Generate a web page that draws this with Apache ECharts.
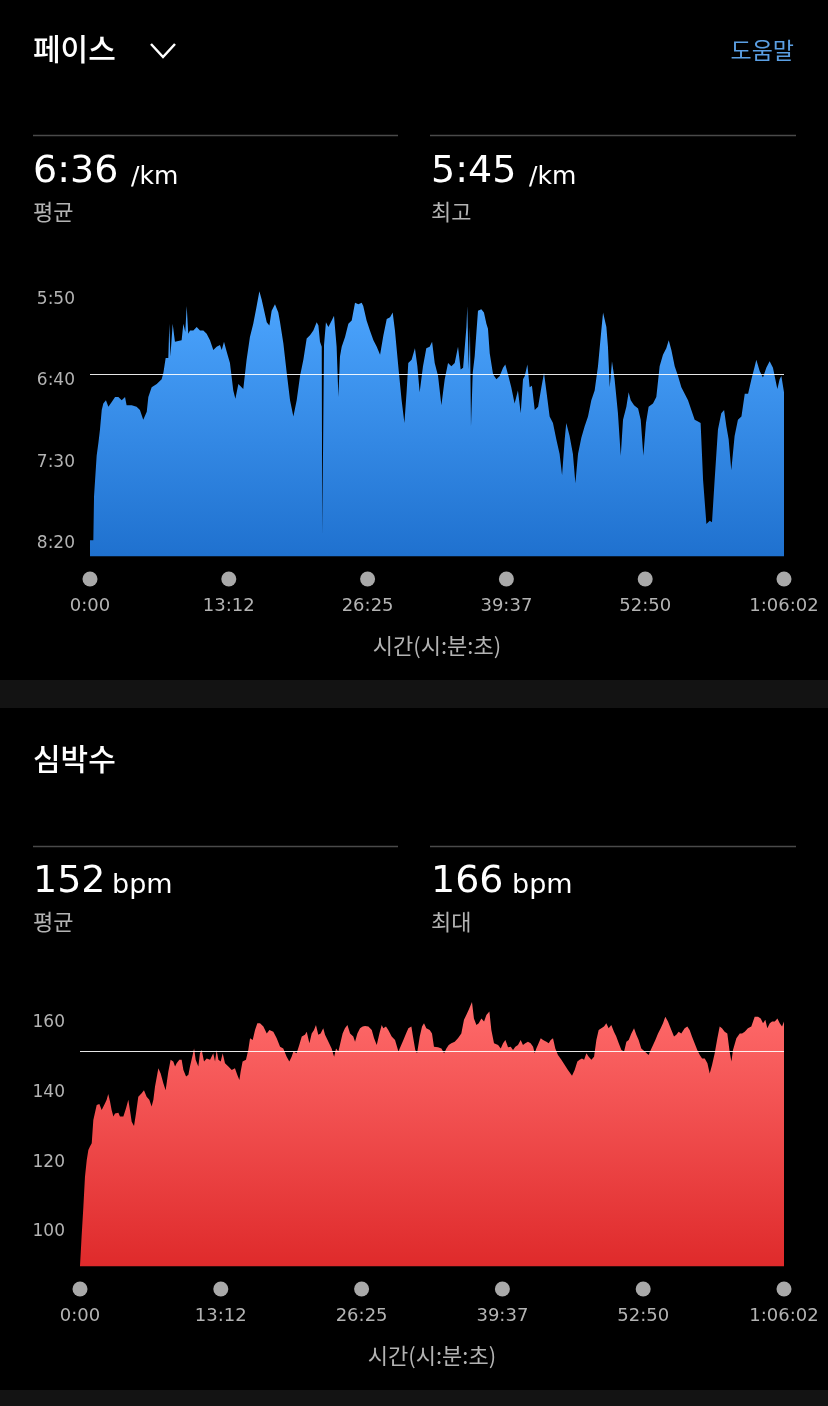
<!DOCTYPE html>
<html><head><meta charset="utf-8">
<script src="https://cdn.jsdelivr.net/npm/echarts@6/dist/echarts.min.js"></script>
<style>html,body{margin:0;padding:0;background:#000;}#c{width:828px;height:1406px;}</style>
</head><body><div id="c"></div>
<script>
// ---- data ----
const paceTitle = '페이스';
const hrTitle = '심박수';
const paceAvg = 396;   // 6:36 /km (seconds)
const paceBest = 345;  // 5:45 /km
const hrAvg = 152;
const hrMax = 166;
const xTickValues = [0, 792.4, 1584.8, 2377.2, 3169.6, 3962];
const paceTickValues = [350, 400, 450, 500];
const hrTickValues = [100, 120, 140, 160];
// [elapsed seconds, pace seconds per km]
const pacePoints = [
[0,498],[19,498],[23,471],[38,446],[48,438],[57,430],[67,418],[76,414],[91,412],[105,416],[124,413],[143,410],[162,410],[181,412],[200,410],[209,415],[238,415],[266,416],[285,418],[304,424],[314,425],[324,419],[333,410],[352,404],[381,402],[409,399],[419,395],[432,386],[447,386],[453,365],[459,385],[472,365],[480,364],[485,376],[495,375],[523,375],[533,365],[544,370],[552,354],[561,371],[571,369],[590,369],[609,367],[628,369],[647,369],[666,371],[685,375],[704,381],[723,379],[742,378],[752,381],[765,376],[780,382],[799,389],[818,406],[830,411],[847,402],[875,405],[894,387],[913,373],[932,365],[948,356],[967,345],[980,350],[1009,364],[1024,366],[1037,357],[1056,353],[1075,358],[1085,364],[1104,377],[1123,395],[1142,412],[1161,422],[1180,412],[1199,397],[1218,387],[1237,374],[1256,372],[1275,369],[1294,364],[1304,366],[1313,376],[1323,379],[1326,494],[1330,494],[1336,378],[1347,364],[1361,367],[1380,363],[1393,360],[1408,379],[1418,410],[1427,385],[1437,379],[1456,373],[1475,365],[1494,363],[1513,352],[1532,353],[1551,352],[1560,354],[1579,363],[1598,369],[1618,375],[1637,379],[1656,384],[1675,372],[1694,362],[1713,361],[1728,358],[1741,369],[1760,391],[1779,412],[1795,426],[1808,406],[1817,389],[1836,387],[1855,380],
[1869,391],[1882,407],[1901,391],[1920,380],[1939,379],[1953,376],[1968,389],[1987,397],[2006,415],[2025,399],[2044,389],[2063,391],[2082,389],[2101,379],[2116,393],[2130,392],[2149,367],[2154,354],[2162,393],[2169,367],[2175,428],[2179,428],[2185,395],[2196,385],[2215,357],[2234,356],[2249,358],[2263,365],[2272,368],[2282,383],[2301,396],[2320,399],[2339,397],[2358,392],[2371,390],[2386,396],[2405,404],[2424,414],[2443,406],[2459,420],[2472,399],[2482,397],[2497,390],[2510,404],[2523,403],[2539,418],[2558,416],[2577,404],[2592,395],[2605,406],[2624,422],[2643,426],[2662,436],[2681,445],[2695,458],[2710,436],[2719,426],[2738,434],[2757,445],[2771,463],[2786,445],[2805,435],[2824,428],[2843,422],[2862,412],[2881,406],[2900,391],[2919,369],[2929,358],[2948,367],[2957,379],[2967,404],[2980,388],[2995,399],[3014,420],[3030,446],[3043,424],[3062,416],[3075,407],[3087,412],[3106,415],[3129,417],[3144,424],[3159,446],[3174,426],[3189,416],[3214,414],[3233,410],[3252,391],[3271,384],[3290,380],[3304,375],[3319,381],[3338,391],[3357,397],[3376,404],[3395,408],[3414,412],[3433,418],[3452,424],[3471,425],[3486,426],[3500,461],[3519,488],[3538,486],[3551,487],[3566,461],[3585,430],[3604,420],[3620,418],[3633,428],[3646,436],[3661,455],[3680,434],[3699,424],[3719,422],[3738,408],[3757,408],[3776,399],[3795,391],[3804,387],[3823,394],[3842,398],[3861,392],[3880,388],[3899,392],[3909,393],[3924,405],[3937,399],[3947,397],[3962,407]
];
// [elapsed seconds, bpm]
const hrPoints = [
[0,90.2],[4,93.8],[9,98.6],[19,107.2],[28,115.8],[38,120.6],[47,123.5],[56,124.5],[66,125.4],[75,132.1],[84,132.6],[94,136.4],[109,136.7],[122,135.0],[131,134.5],[141,136.9],[150,137.9],[159,139.6],[169,137.4],[178,135.0],[188,133.1],[197,134.0],[206,133.6],[216,134.2],[225,133.1],[234,133.6],[244,133.1],[259,135.5],[272,137.9],[281,135.0],[291,131.6],[304,130.4],[315,134.0],[328,138.8],[347,139.8],[360,140.7],[375,138.8],[390,137.9],[403,136.0],[413,137.9],[422,141.7],[441,147.0],[454,145.5],[469,142.7],[482,140.7],[497,146.0],[510,149.4],[525,148.9],[535,147.5],[544,148.4],[559,149.4],[572,149.4],[582,146.5],[597,144.6],[610,145.1],[619,147.5],[634,150.8],[642,152.7],[651,149.4],[666,147.5],[675,151.3],[685,152.2],[698,148.9],[713,149.8],[732,149.4],[750,151.3],[760,148.9],[769,152.2],[779,149.4],[792,148.9],[803,151.3],[816,148.4],[835,147.5],[854,146.5],[872,147.0],[885,145.1],[897,143.6],[904,146.0],[915,148.9],[934,149.4],[947,152.2],[957,155.6],[972,155.1],[985,158.0],[998,159.9],[1013,159.9],[1032,159.0],[1051,157.0],[1066,158.0],[1088,157.5],[1107,155.6],[1126,153.2],[1144,152.7],[1163,150.3],[1178,148.9],[1191,150.3],[1201,151.8],[1219,151.3],[1234,153.7],[1248,156.1],[1266,156.6],[1276,157.5],[1291,154.2],[1304,157.0],[1317,158.0],[1328,159.4],[1341,156.6],[1354,157.0],[1369,158.5],[1379,156.6],[1398,154.6],[1416,152.7],[1430,150.3],[1441,152.7],[1454,151.8],[1463,151.3],[1478,157.0],[1491,158.5],[1505,159.4],[1520,157.0],[1538,156.1],[1548,154.6],[1561,157.0],[1576,158.5],[1591,159.0],[1604,159.1],[1623,159.0],[1642,158.0],[1655,155.6],[1670,153.7],[1685,157.0],[1698,159.4],[1707,158.5],[1722,159.0],[1735,158.0],[1754,156.1],[1773,155.1],[1792,151.8],[1801,152.2],[1820,155.1],[1835,157.0],[1848,158.5],
[1855,158.5],[1865,159.0],[1874,156.1],[1887,152.2],[1897,151.3],[1912,156.1],[1925,159.0],[1936,159.9],[1949,158.5],[1968,158.0],[1981,157.0],[1992,153.2],[2015,153.0],[2034,152.7],[2049,151.3],[2062,152.7],[2075,153.7],[2090,154.2],[2109,154.6],[2127,155.6],[2146,157.0],[2161,160.9],[2174,162.3],[2187,163.7],[2206,166.0],[2217,161.3],[2231,159.4],[2244,159.9],[2259,161.3],[2274,160.4],[2287,162.3],[2304,163.3],[2315,158.0],[2330,154.2],[2353,153.7],[2368,152.7],[2381,154.2],[2394,155.1],[2409,153.0],[2424,153.2],[2437,152.2],[2450,153.2],[2465,153.7],[2480,155.1],[2493,153.7],[2506,154.2],[2521,154.6],[2536,154.2],[2550,153.2],[2559,151.3],[2568,152.7],[2581,154.2],[2593,155.6],[2606,155.1],[2625,154.6],[2638,154.2],[2649,155.1],[2662,155.6],[2675,152.7],[2690,150.8],[2709,149.4],[2728,147.9],[2746,146.5],[2769,144.8],[2784,146.5],[2799,148.9],[2812,149.4],[2825,149.8],[2837,149.4],[2850,151.3],[2863,150.3],[2878,149.4],[2893,150.3],[2906,155.1],[2919,158.0],[2934,158.5],[2949,159.0],[2962,159.9],[2975,158.5],[2990,159.4],[3005,157.5],[3018,156.1],[3032,154.2],[3047,152.2],[3062,151.8],[3075,154.6],[3088,155.1],[3103,157.0],[3118,158.5],[3131,156.6],[3144,155.1],[3159,152.7],[3178,151.8],[3200,150.8],[3212,152.2],[3225,153.7],[3238,155.1],[3253,157.0],[3268,158.5],[3281,159.9],[3294,161.8],[3309,160.4],[3328,158.0],[3343,156.1],[3356,156.6],[3369,157.5],[3384,157.0],[3403,158.5],[3418,159.0],[3431,158.0],[3444,156.1],[3459,154.2],[3474,152.2],[3488,150.8],[3501,149.8],[3516,149.8],[3531,148.4],[3544,145.5],[3557,147.9],[3572,151.3],[3587,155.6],[3600,159.0],[3613,158.5],[3628,157.5],[3643,157.0],[3656,151.8],[3666,148.9],[3675,152.2],[3694,155.6],[3713,157.0],[3726,157.0],[3741,157.5],[3759,158.5],[3778,159.0],[3797,161.8],[3816,161.8],[3831,161.3],[3844,159.9],[3857,160.9],[3868,158.5],[3882,159.9],[3895,160.4],[3910,160.4],[3925,161.3],[3938,159.9],[3951,159.0],[3962,160.4]
];

// ---- helpers ----
function mmss(s){ s=Math.round(s); const m=Math.floor(s/60), r=s%60; return m+':'+(r<10?'0':'')+r; }
function hms(s){ s=Math.round(s); const h=Math.floor(s/3600), m=Math.floor((s%3600)/60), r=s%60;
  const rr=(r<10?'0':'')+r; return h>0 ? h+':'+(m<10?'0':'')+m+':'+rr : m+':'+rr; }

const NUM = '"DejaVu Sans", "Noto Sans CJK KR", sans-serif';
const KR = '"Noto Sans CJK KR", sans-serif';
const GRAY = '#b3b3b3';

function xAxisCfg(gridIndex){
  return {
    type:'value', gridIndex, min:0, max:3962,
    axisLine:{show:false}, axisTick:{show:false}, splitLine:{show:false},
    axisLabel:{
      customValues: xTickValues, margin:15,
      formatter: v => '{d|}\n{t|' + hms(v) + '}',
      rich:{
        d:{width:15, height:15, lineHeight:15, borderRadius:7.5, backgroundColor:'#a9a9a9'},
        t:{fontSize:18, fontFamily:NUM, color:GRAY, lineHeight:40}
      }
    },
    name:'시간(시:분:초)', nameLocation:'middle', nameGap:78,
    nameTextStyle:{fontSize:22, fontFamily:KR, color:GRAY}
  };
}

const chart = echarts.init(document.getElementById('c'), null, {renderer:'canvas'});

function txt(x, y, text, font, fill, align){
  return {type:'text', x, y, silent:true, style:{text, font, fill, textAlign:align||'left', textVerticalAlign:'middle'}};
}
function line(x1,y,x2){
  return {type:'line', silent:true, shape:{x1, y1:y, x2, y2:y}, style:{stroke:'#4a4a4a', lineWidth:1.5}};
}

const graphics = [
  {type:'rect', silent:true, shape:{x:0,y:680,width:828,height:28}, style:{fill:'#131313'}},
  {type:'rect', silent:true, shape:{x:0,y:1390,width:828,height:16}, style:{fill:'#131313'}},
  txt(33, 49, paceTitle, '500 30px ' + KR, '#ffffff'),
  {type:'polyline', silent:true, shape:{points:[[151,44],[163,57],[175,44]]}, style:{stroke:'#ffffff', lineWidth:2.5, fill:null}},
  txt(794, 50, '도움말', '23px ' + KR, '#5b9fe3', 'right'),
  line(33,135.5,398), line(430,135.5,796),
  txt(33, 172, mmss(paceAvg), '38px ' + NUM, '#ffffff'),
  txt(131, 177, '/km', '25px ' + NUM, '#ffffff'),
  txt(33, 212, '평균', '22px ' + KR, GRAY),
  txt(431, 172, mmss(paceBest), '38px ' + NUM, '#ffffff'),
  txt(529, 177, '/km', '25px ' + NUM, '#ffffff'),
  txt(431, 212, '최고', '22px ' + KR, GRAY),

  txt(33, 759, hrTitle, '500 30px ' + KR, '#ffffff'),
  line(33,846.5,398), line(430,846.5,796),
  txt(33, 882, String(hrAvg), '38px ' + NUM, '#ffffff'),
  txt(112, 886, 'bpm', '27px ' + NUM, '#ffffff'),
  txt(33, 922, '평균', '22px ' + KR, GRAY),
  txt(431, 882, String(hrMax), '38px ' + NUM, '#ffffff'),
  txt(512, 886, 'bpm', '27px ' + NUM, '#ffffff'),
  txt(431, 922, '최대', '22px ' + KR, GRAY)
];

chart.setOption({
  backgroundColor:'#000000',
  animation:false,
  graphic: graphics,
  grid:[
    {left:90, right:44, top:283.2, height:273.3},
    {left:80, right:44, top:988.2, height:278.3}
  ],
  xAxis:[ xAxisCfg(0), xAxisCfg(1) ],
  yAxis:[
    {type:'value', gridIndex:0, inverse:true, min:340, max:508,
     axisLine:{show:false}, axisTick:{show:false}, splitLine:{show:false},
     axisLabel:{customValues: paceTickValues, formatter: v => mmss(v), fontSize:17, fontFamily:NUM, color:GRAY, margin:15}},
    {type:'value', gridIndex:1, min:90, max:170,
     axisLine:{show:false}, axisTick:{show:false}, splitLine:{show:false},
     axisLabel:{customValues: hrTickValues, fontSize:17, fontFamily:NUM, color:GRAY, margin:15}}
  ],
  series:[
    {type:'line', xAxisIndex:0, yAxisIndex:0, data:pacePoints, symbol:'none', showSymbol:false,
     lineStyle:{width:0}, sampling:null,
     areaStyle:{origin:'end', opacity:1, color:new echarts.graphic.LinearGradient(0,0,0,1,[{offset:0,color:'#4da6ff'},{offset:1,color:'#1f71cf'}])},
     markLine:{silent:true, symbol:['none','none'], label:{show:false}, animation:false,
       lineStyle:{color:'#ffffff', width:1, type:'solid', opacity:0.9}, data:[{yAxis:paceAvg}]}
    },
    {type:'line', xAxisIndex:1, yAxisIndex:1, data:hrPoints, symbol:'none', showSymbol:false,
     lineStyle:{width:0},
     areaStyle:{opacity:1, color:new echarts.graphic.LinearGradient(0,0,0,1,[{offset:0,color:'#ff6b6b'},{offset:1,color:'#df2a2b'}])},
     markLine:{silent:true, symbol:['none','none'], label:{show:false}, animation:false,
       lineStyle:{color:'#ffffff', width:1, type:'solid', opacity:0.9}, data:[{yAxis:hrAvg}]}
    }
  ]
});
</script></body></html>
